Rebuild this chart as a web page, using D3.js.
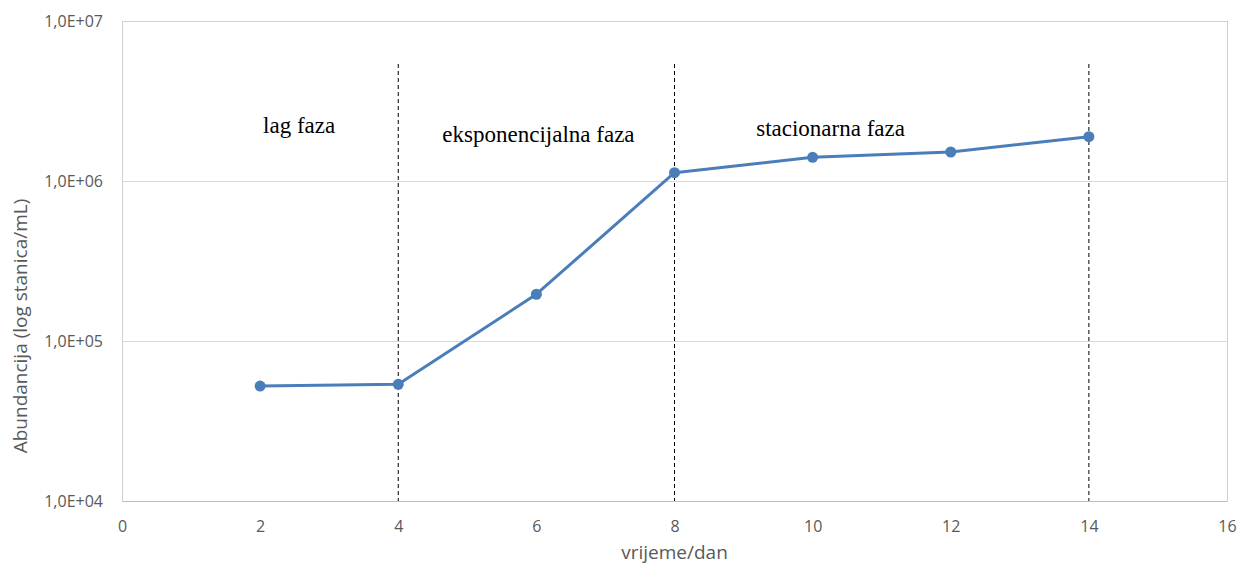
<!DOCTYPE html>
<html><head><meta charset="utf-8">
<script src="https://cdn.jsdelivr.net/npm/d3@7"></script>
<style>body{margin:0;background:#fff}svg{display:block}</style>
</head><body>
<svg id="c" width="1241" height="566"></svg>
<script>
const days = [2, 4, 6, 8, 10, 12, 14];
const abundance = [52300, 53600, 196000, 1127000, 1406000, 1518000, 1892000];
const xTicks = [0, 2, 4, 6, 8, 10, 12, 14, 16];
const yTicks = [1e4, 1e5, 1e6, 1e7];
const yTickLabels = ["1,0E+04", "1,0E+05", "1,0E+06", "1,0E+07"];
const phaseBounds = [4, 8, 14];
const phaseLabels = ["lag faza", "eksponencijalna faza", "stacionarna faza"];
const phaseLabelX = [2.565, 6.03, 10.26];
const phaseLabelY = [1.995e6, 1.753e6, 1.91e6];

const svg = d3.select("#c");
const L = 122, R = 1227, T = 21, B = 501;
const x = d3.scaleLinear().domain([0, 16]).range([L, R]);
const y = d3.scaleLog().domain([1e4, 1e7]).range([B, T]);

// gridlines
svg.append("g").selectAll("line").data(yTicks).join("line")
  .attr("x1", L).attr("x2", R).attr("y1", d => y(d)).attr("y2", d => y(d))
  .attr("stroke", "#d9d9d9").attr("stroke-width", 1).attr("shape-rendering", "crispEdges");
// plot border
svg.append("rect").attr("x", L).attr("y", T).attr("width", R - L).attr("height", B - T)
  .attr("fill", "none").attr("stroke", "#d0d0d0").attr("shape-rendering", "crispEdges");
svg.append("line").attr("x1", L).attr("x2", R).attr("y1", B).attr("y2", B)
  .attr("stroke", "#bfbfbf").attr("shape-rendering", "crispEdges");

// axes labels
const yAxis = d3.axisLeft(y).tickValues(yTicks).tickFormat((d, i) => yTickLabels[i]).tickSize(0).tickPadding(19);
const gy = svg.append("g").attr("transform", `translate(${L},0)`).call(yAxis);
gy.select(".domain").remove();
gy.selectAll("text").attr("font-family", "Open Sans, sans-serif").attr("font-size", 16).attr("fill", "#595959");

const xAxis = d3.axisBottom(x).tickValues(xTicks).tickFormat(d3.format("d")).tickSize(0).tickPadding(20);
const gx = svg.append("g").attr("transform", `translate(0,${B})`).call(xAxis);
gx.select(".domain").remove();
gx.selectAll("text").attr("font-family", "Open Sans, sans-serif").attr("font-size", 16).attr("fill", "#595959");

// axis titles
svg.append("text").attr("x", (L + R) / 2).attr("y", 559).attr("text-anchor", "middle")
  .attr("font-family", "Open Sans, sans-serif").attr("font-size", 19).attr("fill", "#595959").text("vrijeme/dan");
svg.append("text").attr("transform", `translate(27,326) rotate(-90)`).attr("text-anchor", "middle")
  .attr("font-family", "Open Sans, sans-serif").attr("font-size", 19).attr("fill", "#595959").text("Abundancija (log stanica/mL)");

// series
const line = d3.line().x((d, i) => x(days[i])).y(d => y(d));
svg.append("path").datum(abundance).attr("d", line).attr("fill", "none")
  .attr("stroke", "#4a7ebb").attr("stroke-width", 3).attr("stroke-linejoin", "round");

// phase dashed lines
svg.append("g").selectAll("line").data(phaseBounds).join("line")
  .attr("x1", d => x(d)).attr("x2", d => x(d)).attr("y1", 64).attr("y2", B)
  .attr("stroke", "#000").attr("stroke-width", 1).attr("stroke-dasharray", "4,3");

svg.append("g").selectAll("circle").data(abundance).join("circle")
  .attr("cx", (d, i) => x(days[i])).attr("cy", d => y(d)).attr("r", 5.5).attr("fill", "#4a7ebb");

// phase labels
svg.append("g").selectAll("text").data(phaseLabels).join("text")
  .attr("x", (d, i) => x(phaseLabelX[i])).attr("y", (d, i) => y(phaseLabelY[i]))
  .attr("text-anchor", "middle").attr("font-family", "Liberation Serif, Times New Roman, serif")
  .attr("font-size", 23).attr("fill", "#000").text(d => d);
</script>
</body></html>
